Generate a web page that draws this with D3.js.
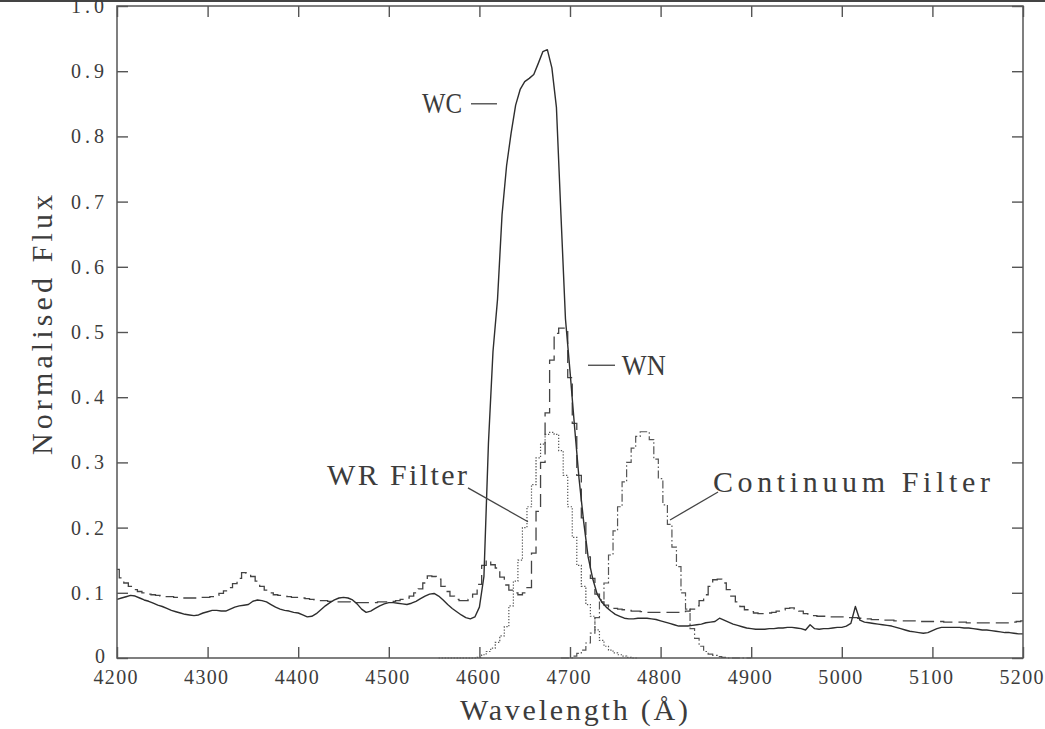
<!DOCTYPE html>
<html>
<head>
<meta charset="utf-8">
<script src="https://cdn.jsdelivr.net/npm/d3@7"></script>
<style>
  html, body { margin: 0; padding: 0; background: #fff; }
  svg { display: block; }
</style>
</head>
<body>
<svg id="chart" width="1045" height="729"></svg>
<script>
// Spectra sampled on a 5 Å grid from 4200 Å to 5200 Å
const gridStep = 5;
const spectrumStart = 4200;

// Composite WC spectrum (solid)
const wcFlux = [
  0.090,0.092,0.094,0.096,0.095,0.092,0.089,0.087,0.084,0.081,
  0.079,0.076,0.073,0.071,0.069,0.067,0.066,0.065,0.066,0.069,
  0.071,0.073,0.073,0.072,0.072,0.075,0.078,0.080,0.081,0.082,
  0.087,0.089,0.088,0.086,0.082,0.078,0.075,0.073,0.072,0.070,
  0.069,0.066,0.063,0.064,0.068,0.074,0.080,0.085,0.089,0.092,
  0.093,0.092,0.089,0.083,0.075,0.070,0.072,0.076,0.080,0.083,
  0.085,0.085,0.084,0.083,0.082,0.084,0.087,0.091,0.095,0.098,
  0.099,0.095,0.089,0.082,0.076,0.071,0.066,0.062,0.060,0.063,
  0.078,0.125,0.330,0.470,0.550,0.680,0.755,0.805,0.848,0.872,
  0.884,0.889,0.895,0.912,0.930,0.933,0.905,0.845,0.680,0.520,
  0.440,0.355,0.275,0.210,0.155,0.122,0.098,0.086,0.078,0.072,
  0.067,0.064,0.061,0.060,0.060,0.061,0.061,0.061,0.060,0.059,
  0.057,0.055,0.053,0.051,0.049,0.049,0.049,0.050,0.051,0.052,
  0.054,0.055,0.056,0.061,0.058,0.055,0.052,0.050,0.048,0.046,
  0.045,0.044,0.044,0.044,0.045,0.045,0.046,0.046,0.047,0.047,
  0.046,0.045,0.043,0.051,0.045,0.044,0.045,0.045,0.046,0.047,
  0.047,0.049,0.053,0.079,0.058,0.055,0.054,0.053,0.052,0.051,
  0.050,0.049,0.047,0.045,0.043,0.041,0.040,0.039,0.038,0.039,
  0.042,0.045,0.047,0.047,0.047,0.047,0.047,0.046,0.046,0.045,
  0.044,0.043,0.043,0.042,0.041,0.040,0.039,0.039,0.038,0.037,
  0.037
];

// Composite WN spectrum (dashed)
const wnFlux = [
  0.136,0.123,0.115,0.110,0.105,0.102,0.100,0.098,0.097,0.096,
  0.095,0.094,0.094,0.093,0.093,0.092,0.092,0.092,0.092,0.093,
  0.093,0.094,0.096,0.099,0.103,0.108,0.114,0.122,0.131,0.130,
  0.125,0.118,0.110,0.104,0.100,0.097,0.096,0.095,0.094,0.093,
  0.093,0.092,0.091,0.090,0.089,0.088,0.088,0.087,0.087,0.086,
  0.086,0.086,0.085,0.085,0.085,0.085,0.085,0.085,0.086,0.086,
  0.086,0.087,0.088,0.090,0.092,0.095,0.100,0.106,0.115,0.126,
  0.125,0.121,0.110,0.102,0.095,0.090,0.088,0.088,0.090,0.098,
  0.113,0.142,0.150,0.143,0.138,0.124,0.112,0.104,0.100,0.097,
  0.100,0.108,0.161,0.225,0.300,0.376,0.457,0.498,0.506,0.506,
  0.430,0.360,0.280,0.215,0.155,0.122,0.098,0.086,0.081,0.078,
  0.076,0.075,0.074,0.073,0.072,0.072,0.071,0.070,0.070,0.070,
  0.070,0.070,0.070,0.070,0.070,0.071,0.072,0.075,0.080,0.088,
  0.097,0.110,0.120,0.121,0.115,0.105,0.095,0.086,0.079,0.074,
  0.071,0.069,0.068,0.068,0.069,0.070,0.072,0.074,0.076,0.077,
  0.075,0.072,0.068,0.066,0.065,0.064,0.064,0.064,0.063,0.063,
  0.063,0.062,0.062,0.062,0.061,0.060,0.060,0.059,0.059,0.058,
  0.058,0.058,0.057,0.057,0.057,0.057,0.057,0.056,0.056,0.056,
  0.056,0.056,0.056,0.055,0.055,0.055,0.055,0.055,0.054,0.054,
  0.054,0.054,0.054,0.054,0.054,0.054,0.054,0.054,0.055,0.056,
  0.057
];

// WR (He II 4686) filter transmission, scaled (dotted)
const wrFilterStart = 4555;
const wrFilter = [
  0.000,0.000,0.000,0.000,0.000,0.000,0.000,
  0.000,0.000,0.001,0.005,0.010,0.015,0.024,0.034,0.048,0.080,
  0.118,0.150,0.200,0.232,0.266,0.307,0.328,0.343,0.346,0.343,
  0.318,0.280,0.232,0.185,0.142,0.110,0.082,0.064,0.043,0.027,
  0.018,0.012,0.008,0.005,0.003,0.001,0.000,0.000
];

// Continuum filter transmission, scaled (dash-dot)
const contFilterStart = 4690;
const contFilter = [
  0.000,0.000,0.000,0.003,0.007,0.012,0.023,0.038,0.062,0.089,
  0.115,0.158,0.195,0.232,0.270,0.300,0.322,0.340,0.347,0.347,
  0.335,0.305,0.275,0.235,0.205,0.170,0.140,0.100,0.075,0.045,
  0.030,0.018,0.010,0.006,0.004,0.002,0.001,0.000,0.000,0.000,
  0.000,0.000,0.000
];

const xTicks = [4200,4300,4400,4500,4600,4700,4800,4900,5000,5100,5200];
const xTickLabels = ["4200","4300","4400","4500","4600","4700","4800","4900","5000","5100","5200"];
const yTicks = [0,0.1,0.2,0.3,0.4,0.5,0.6,0.7,0.8,0.9,1.0];
const yTickLabels = ["0","0.1","0.2","0.3","0.4","0.5","0.6","0.7","0.8","0.9","1.0"];

// ---------------------------------------------------------------------------
(function draw() {
  const svg = d3.select("#chart");
  const ink = "#3c3c3c";
  const frameInk = "#555";
  const serif = "'Liberation Serif', 'DejaVu Serif', serif";

  const plotLeft = 117, plotRight = 1023, plotTop = 6, plotBottom = 658;
  const x = d3.scaleLinear().domain([4200, 5200]).range([plotLeft, plotRight]);
  const y = d3.scaleLinear().domain([0, 1]).range([plotBottom, plotTop]);

  // page rule along the very top
  svg.append("line")
    .attr("x1", 0).attr("x2", 1045).attr("y1", 1).attr("y2", 1)
    .attr("stroke", "#444").attr("stroke-width", 2);

  const toPoints = (values, start) => values.map((v, i) => [start + i * gridStep, v]);

  const plot = svg.append("g");
  const lineLinear = d3.line().x(d => x(d[0])).y(d => y(d[1]));
  const lineStep = d3.line().x(d => x(d[0])).y(d => y(d[1])).curve(d3.curveStep);

  // WR filter (dotted)
  plot.append("path")
    .datum(toPoints(wrFilter, wrFilterStart))
    .attr("d", lineStep)
    .attr("fill", "none").attr("stroke", "#555").attr("stroke-width", 1.2)
    .attr("stroke-dasharray", "1.3,1.7");

  // Continuum filter (dash-dot)
  plot.append("path")
    .datum(toPoints(contFilter, contFilterStart))
    .attr("d", lineStep)
    .attr("fill", "none").attr("stroke", "#555").attr("stroke-width", 1.2)
    .attr("stroke-dasharray", "8,2.5,1.5,2.5");

  // WN spectrum (dashed)
  plot.append("path")
    .datum(toPoints(wnFlux, spectrumStart))
    .attr("d", lineStep)
    .attr("fill", "none").attr("stroke", "#444").attr("stroke-width", 1.3)
    .attr("stroke-dasharray", "13,6");

  // WC spectrum (solid)
  plot.append("path")
    .datum(toPoints(wcFlux, spectrumStart))
    .attr("d", lineLinear)
    .attr("fill", "none").attr("stroke", "#2e2e2e").attr("stroke-width", 1.4)
    .attr("stroke-linejoin", "round");

  // frame
  svg.append("rect")
    .attr("x", plotLeft).attr("y", plotTop)
    .attr("width", plotRight - plotLeft).attr("height", plotBottom - plotTop)
    .attr("fill", "none").attr("stroke", frameInk).attr("stroke-width", 1.5);

  // axes with inward ticks on all four sides
  function styleAxis(g) {
    g.select(".domain").remove();
    g.selectAll(".tick line").attr("stroke", frameInk).attr("stroke-width", 1.4);
    g.selectAll(".tick text")
      .attr("fill", ink)
      .style("font-family", serif)
      .style("font-size", "20px");
  }

  svg.append("g")
    .attr("transform", `translate(0,${plotBottom})`)
    .call(d3.axisBottom(x).tickValues(xTicks)
      .tickFormat((d, i) => xTickLabels[i])
      .tickSizeInner(-11).tickSizeOuter(0).tickPadding(12))
    .call(styleAxis)
    .call(g => g.selectAll(".tick text")
      .attr("textLength", 44).attr("lengthAdjust", "spacing")
      .attr("x", -2));

  svg.append("g")
    .attr("transform", `translate(${plotLeft},0)`)
    .call(d3.axisLeft(y).tickValues(yTicks)
      .tickFormat((d, i) => yTickLabels[i])
      .tickSizeInner(-11).tickSizeOuter(0).tickPadding(13))
    .call(styleAxis)
    .call(g => g.selectAll(".tick text")
      .filter(d => d !== 0)
      .attr("textLength", 33).attr("lengthAdjust", "spacing"))
    .call(g => g.selectAll(".tick text")
      .filter(d => d === 0)
      .attr("x", -12).attr("dy", "0.2em"));

  svg.append("g")
    .attr("transform", `translate(0,${plotTop})`)
    .call(d3.axisTop(x).tickValues(xTicks).tickFormat("")
      .tickSizeInner(-11).tickSizeOuter(0))
    .call(styleAxis);

  svg.append("g")
    .attr("transform", `translate(${plotRight},0)`)
    .call(d3.axisRight(y).tickValues(yTicks).tickFormat("")
      .tickSizeInner(-11).tickSizeOuter(0))
    .call(styleAxis);

  // axis titles
  svg.append("text")
    .attr("x", 460).attr("y", 720)
    .attr("textLength", 228).attr("lengthAdjust", "spacing")
    .attr("fill", ink)
    .style("font-family", serif).style("font-size", "30px")
    .text("Wavelength (Å)");

  svg.append("text")
    .attr("transform", "translate(52,455) rotate(-90)")
    .attr("textLength", 260).attr("lengthAdjust", "spacing")
    .attr("fill", ink)
    .style("font-family", serif).style("font-size", "30px")
    .text("Normalised Flux");

  // curve annotations, anchored in data units
  const notes = svg.append("g")
    .attr("fill", ink)
    .style("font-family", serif).style("font-size", "30px");

  function leader(l1, f1, l2, f2) {
    svg.append("line")
      .attr("x1", x(l1)).attr("y1", y(f1))
      .attr("x2", x(l2)).attr("y2", y(f2))
      .attr("stroke", "#444").attr("stroke-width", 1.3);
  }

  notes.append("text")
    .attr("x", x(4580.8)).attr("y", y(0.836))
    .attr("text-anchor", "end")
    .attr("textLength", 40).attr("lengthAdjust", "spacingAndGlyphs")
    .text("WC");
  leader(4590.7, 0.850, 4619.4, 0.850);

  notes.append("text")
    .attr("x", x(4757.1)).attr("y", y(0.434))
    .attr("textLength", 44).attr("lengthAdjust", "spacingAndGlyphs")
    .text("WN");
  leader(4719.9, 0.449, 4749.7, 0.449);

  notes.append("text")
    .attr("x", x(4431.8)).attr("y", y(0.265))
    .attr("textLength", 140).attr("lengthAdjust", "spacing")
    .text("WR Filter");
  leader(4587.4, 0.261, 4653.6, 0.209);

  notes.append("text")
    .attr("x", x(4857.8)).attr("y", y(0.2546))
    .attr("textLength", 277).attr("lengthAdjust", "spacing")
    .text("Continuum Filter");
  leader(4863.4, 0.2546, 4810.4, 0.2117);
})();
</script>
